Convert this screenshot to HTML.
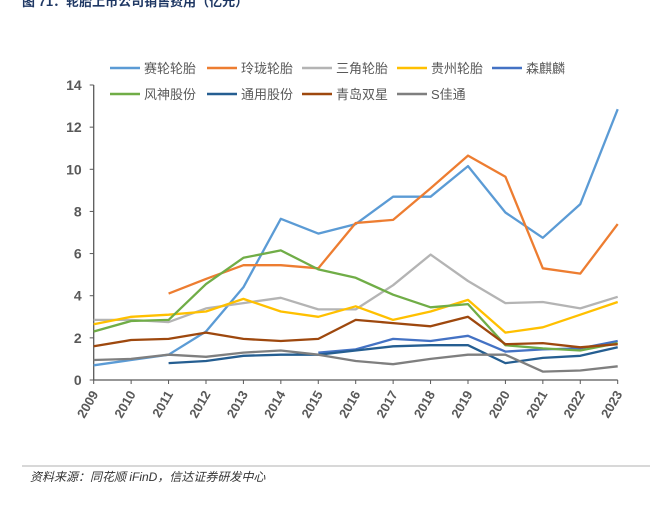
<!DOCTYPE html>
<html><head><meta charset="utf-8"><style>
body{margin:0;background:#fff;width:664px;height:506px;overflow:hidden;font-family:"Liberation Sans","Noto Sans CJK SC",sans-serif}
</style></head><body>
<svg width="664" height="506" xmlns="http://www.w3.org/2000/svg">
<text x="22" y="6" font-size="13" font-weight="bold" fill="#1F3864" font-family="Liberation Sans,Noto Sans CJK SC,sans-serif">图 71：轮胎上市公司销售费用（亿元）</text>
<g id="grid"></g>
<g id="series"></g>
<g id="legend"></g>
<line x1="22" y1="466" x2="650" y2="466" stroke="#999" stroke-width="0.8"/>
<text x="30" y="481" font-size="12" font-style="italic" fill="#333" font-family="Liberation Sans,Noto Sans CJK SC,sans-serif">资料来源：同花顺 iFinD，信达证券研发中心</text>
</svg>
<script>
const years=["2009","2010","2011","2012","2013","2014","2015","2016","2017","2018","2019","2020","2021","2022","2023"];
const yTicks=[0,2,4,6,8,10,12,14];
const names=["赛轮轮胎","玲珑轮胎","三角轮胎","贵州轮胎","森麒麟","风神股份","通用股份","青岛双星","S佳通"];
const colors=["#5B9BD5","#ED7D31","#B4B4B4","#FFC000","#4472C4","#70AD47","#255E91","#9E480E","#7F7F7F"];
const sailun=[0.7,0.95,1.2,2.3,4.4,7.65,6.95,7.4,8.7,8.7,10.15,7.95,6.75,8.35,12.85];
const linglong=[null,null,4.1,4.8,5.45,5.45,5.3,7.45,7.6,9.1,10.65,9.65,5.3,5.05,7.4];
const sanjiao=[2.85,2.85,2.75,3.4,3.65,3.9,3.35,3.35,4.5,5.95,4.7,3.65,3.7,3.4,3.95];
const guizhou=[2.65,3.0,3.1,3.25,3.85,3.25,3.0,3.5,2.85,3.25,3.8,2.25,2.5,3.1,3.7];
const senqilin=[null,null,null,null,null,null,1.3,1.45,1.95,1.85,2.1,1.35,1.45,1.5,1.85];
const fengshen=[2.3,2.8,2.85,4.55,5.8,6.15,5.25,4.85,4.05,3.45,3.6,1.65,1.5,1.4,1.75];
const tongyong=[null,null,0.8,0.9,1.15,1.2,1.2,1.4,1.6,1.65,1.65,0.8,1.05,1.15,1.55];
const shuangxing=[1.6,1.9,1.95,2.25,1.95,1.85,1.95,2.85,2.7,2.55,3.0,1.7,1.75,1.55,1.7];
const jiatong=[0.95,1.0,1.2,1.1,1.3,1.4,1.2,0.9,0.75,1.0,1.2,1.2,0.4,0.45,0.65];
const seriesList=[sailun,linglong,sanjiao,guizhou,senqilin,fengshen,tongyong,shuangxing,jiatong];
const slugs=["sailun","linglong","sanjiao","guizhou","senqilin","fengshen","tongyong","shuangxing","jiatong"];

const NS="http://www.w3.org/2000/svg";
const x0=93.7,x1=617.7,y0=380,yTop=85,yMax=14;
const X=i=>x0+(x1-x0)*i/(years.length-1);
const Y=v=>y0-(y0-yTop)*v/yMax;
function mk(t,a,p){const e=document.createElementNS(NS,t);for(const k in a)e.setAttribute(k,a[k]);p.appendChild(e);return e;}
const grid=document.getElementById('grid');
const axY=mk('line',{x1:x0,y1:Y(14),x2:x0,y2:y0,stroke:'#595959','stroke-width':1.3},grid);


const axX=mk('line',{x1:x0,y1:y0,x2:x1,y2:y0,stroke:'#595959','stroke-width':1.3},grid);


yTicks.forEach(v=>{
 const tk=mk('line',{x1:x0-4,y1:Y(v),x2:x0,y2:Y(v),stroke:'#595959'},grid);
 
 
 const t=mk('text',{x:x0-12,y:Y(v)+5,'text-anchor':'end','font-size':14,'font-weight':'bold',fill:'#595959'},grid);
 t.textContent=v;
 
 
});
years.forEach((yr,i)=>{
 const tk=mk('line',{x1:X(i),y1:y0,x2:X(i),y2:y0+4,stroke:'#595959'},grid);
 
 
 const t=mk('text',{x:X(i)+5,y:y0+14,'text-anchor':'end','font-size':13,'font-weight':'bold',fill:'#595959',transform:`rotate(-60 ${X(i)+5} ${y0+14})`},grid);
 t.textContent=yr;
 
 
});
const sg=document.getElementById('series');
seriesList.forEach((arr,s)=>{
 let d='';let pen=false;
 arr.forEach((v,i)=>{if(v==null){pen=false;return;}d+=(pen?'L':'M')+X(i).toFixed(1)+' '+Y(v).toFixed(1)+' ';pen=true;});
 const p=mk('path',{d:d,fill:'none',stroke:colors[s],'stroke-width':2.3,'stroke-linejoin':'round'},sg);
 
 
});
const lg=document.getElementById('legend');
const lpos=[[110,68],[207,68],[302,68],[397,68],[492,68],[110,94],[207,94],[302,94],[397,94]];
names.forEach((n,s)=>{
 const [lx,ly]=lpos[s];
 const g=mk('g',{},lg);
 
 
 mk('line',{x1:lx,y1:ly,x2:lx+30,y2:ly,stroke:colors[s],'stroke-width':2.5},g);
 const t=mk('text',{x:lx+34,y:ly+5,'font-size':13,fill:'#595959'},g);
 t.textContent=n;
});
</script>
</body></html>
